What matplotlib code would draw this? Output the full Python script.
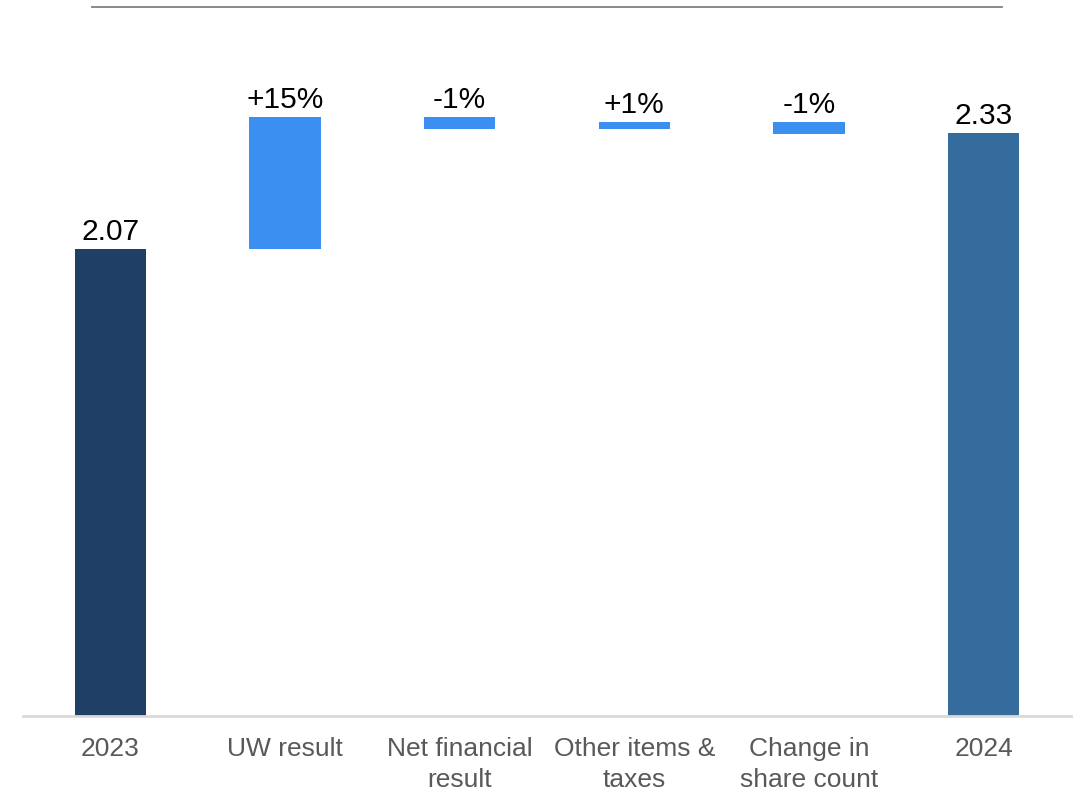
import numpy as np
import matplotlib.pyplot as plt
from matplotlib.lines import Line2D

plt.rcParams['font.family'] = ['Liberation Sans', 'DejaVu Sans']

# EPS bridge 2023 -> 2024
categories = ['2023', 'UW result', 'Net financial\nresult', 'Other items &\ntaxes', 'Change in\nshare count', '2024']
start_value = 2.07
end_value = 2.33
deltas = [0.296, -0.027, 0.016, -0.028]
delta_labels = ['+15%', '-1%', '+1%', '-1%']
axis_floor = 1.023

col_start = '#203F67'
col_delta = '#3A8FF0'
col_end = '#366C9D'

fig = plt.figure(figsize=(10.76, 7.99), dpi=100)
ax = fig.add_axes([23 / 1076, 83 / 799, 1048 / 1076, 676 / 799])

x = np.arange(len(categories))
w = 0.41

# start / end bars
ax.bar(x[0], start_value - axis_floor, bottom=axis_floor, width=w, color=col_start)
ax.bar(x[-1], end_value - axis_floor, bottom=axis_floor, width=w, color=col_end)

# floating delta bars
running = start_value
tops = []
for i, d in enumerate(deltas):
    lo = min(running, running + d)
    ax.bar(x[i + 1], abs(d), bottom=lo, width=w, color=col_delta)
    tops.append(lo + abs(d))
    running += d

lab_kw = dict(ha='center', va='bottom', fontsize=21.5, color='black')
ax.text(x[0], start_value + 0.006, f'{start_value:.2f}', **lab_kw)
ax.text(x[-1], end_value + 0.006, f'{end_value:.2f}', **lab_kw)
for i, (t, lab) in enumerate(zip(tops, delta_labels)):
    ax.text(x[i + 1], t + 0.006, lab, **lab_kw)

ax.set_xlim(-0.5, len(categories) - 0.5)
ax.set_ylim(axis_floor, axis_floor + 676 / 446)
ax.set_xticks(x)
ax.set_xticklabels(categories, fontsize=19, color='#595959', linespacing=1.38)
ax.tick_params(axis='x', length=0, pad=15)
ax.set_yticks([])
for s in ['top', 'right', 'left']:
    ax.spines[s].set_visible(False)
ax.spines['bottom'].set_color('#D9D9D9')
ax.spines['bottom'].set_linewidth(2)

# thin rule at the top of the slide
fig.add_artist(Line2D([92 / 1076, 1002 / 1076], [1 - 7 / 799, 1 - 7 / 799],
                      color='#7F7F7F', linewidth=1.3, transform=fig.transFigure))

fig.savefig('out.png', dpi=100)
